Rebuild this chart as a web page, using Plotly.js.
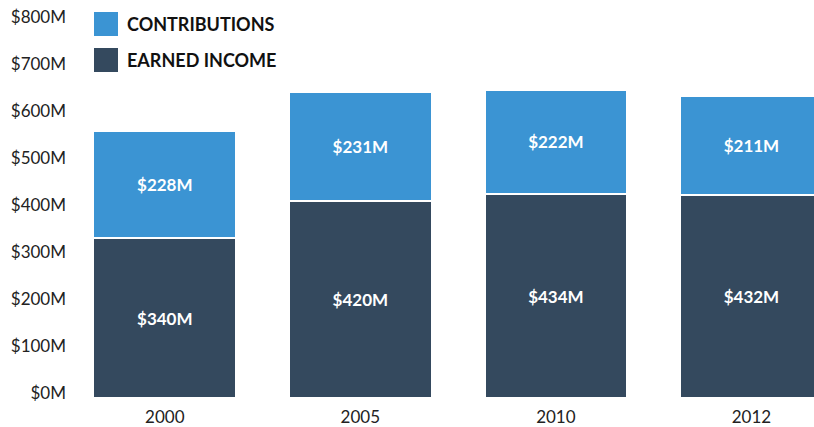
<!DOCTYPE html>
<html>
<head>
<meta charset="utf-8">
<script src="https://cdn.plot.ly/plotly-3.0.1.min.js"></script>
<style>html,body{margin:0;padding:0;background:#fff;}#chart{width:814px;height:427px;}</style>
</head>
<body>
<div id="chart"></div>
<script>
const years = ["2000", "2005", "2010", "2012"];
const earnedIncome = [340, 420, 434, 432];
const contributions = [228, 231, 222, 211];
const seriesNames = ["EARNED INCOME", "CONTRIBUTIONS"];
const seriesColors = ["#34495e", "#3b94d3"];

const FONT = "Lato, 'Open Sans', sans-serif";

function barTrace(values, i) {
  return {
    type: "bar",
    name: seriesNames[i],
    x: years,
    y: values,
    text: values.map(v => "$" + v + "M"),
    texttemplate: "%{text}",
    marker: { color: seriesColors[i], line: { color: "#ffffff", width: 2 } },
    textposition: "inside",
    insidetextanchor: "middle",
    textangle: 0,
    insidetextfont: { family: FONT, size: 17, color: "#ffffff", weight: "bold" },
    hoverinfo: "skip",
    showlegend: false
  };
}

const data = [barTrace(earnedIncome, 0), barTrace(contributions, 1)];

const legendItems = [
  { name: seriesNames[1], color: seriesColors[1], top: 10, mid: 0.9947 },
  { name: seriesNames[0], color: seriesColors[0], top: -26, mid: 0.8989 }
];

const shapes = legendItems.map(it => ({
  type: "rect", xref: "paper", yref: "paper",
  xsizemode: "pixel", ysizemode: "pixel",
  xanchor: 0, yanchor: 1,
  x0: 27, x1: 51, y0: it.top - 24, y1: it.top,
  fillcolor: it.color, line: { width: 0 }
}));

const annotations = legendItems.map(it => ({
  xref: "paper", yref: "paper", x: 0.0777, y: it.mid,
  xanchor: "left", yanchor: "middle", showarrow: false,
  text: it.name,
  font: { family: FONT, size: 18, color: "#111111", weight: "bold" }
}));

const layout = {
  width: 814, height: 427,
  margin: { l: 67, r: 0, t: 22, b: 29, pad: 0 },
  paper_bgcolor: "#ffffff", plot_bgcolor: "#ffffff",
  barmode: "stack",
  bargap: 0.27,
  font: { family: FONT, size: 16, color: "#222222" },
  xaxis: {
    type: "category",
    range: [-0.5, 3.32],
    showgrid: false, zeroline: false, showline: false,
    ticks: "", ticklabelstandoff: 7,
    tickfont: { family: FONT, size: 17, color: "#222222" },
    fixedrange: true
  },
  yaxis: {
    range: [0, 800],
    dtick: 100, tick0: 0,
    tickprefix: "$", ticksuffix: "M",
    showgrid: false, zeroline: false, showline: false,
    ticks: "", ticklabelshift: -5,
    tickfont: { family: FONT, size: 17, color: "#222222" },
    fixedrange: true
  },
  shapes: shapes,
  annotations: annotations,
  showlegend: false
};

Plotly.newPlot("chart", data, layout, { displayModeBar: false, staticPlot: true });
</script>
</body>
</html>
